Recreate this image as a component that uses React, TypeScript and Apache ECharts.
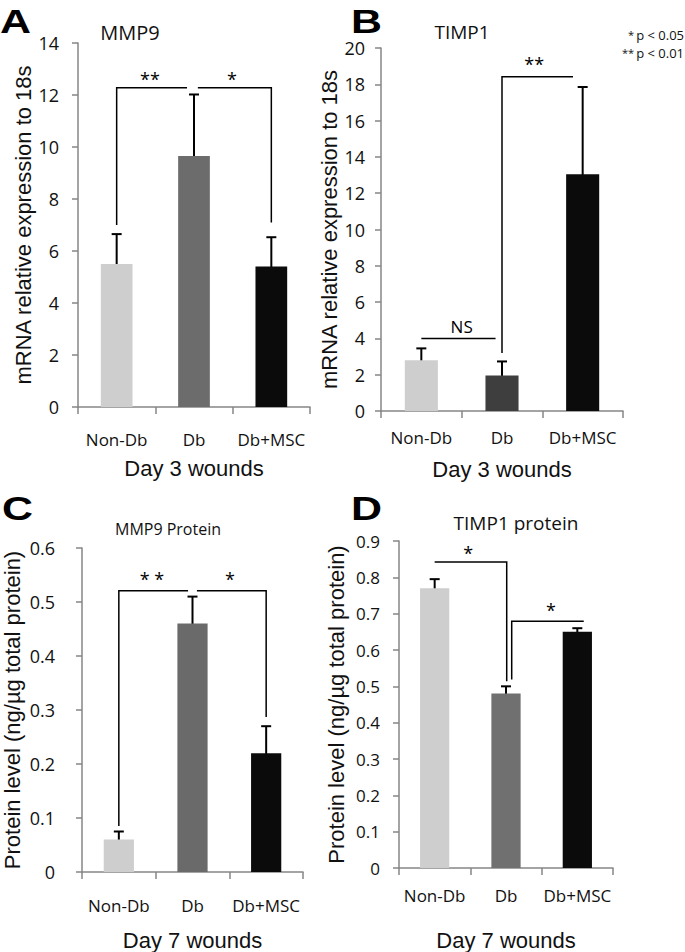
import React, { useEffect, useRef } from "react";
import * as echarts from "echarts";

const categories = ["Non-Db", "Db", "Db+MSC"];

const mmp9Mrna = [5.5, 9.65, 5.4];
const mmp9MrnaErr = [1.15, 2.37, 1.13];
const timp1Mrna = [2.8, 1.95, 13.05];
const timp1MrnaErr = [0.65, 0.78, 4.8];
const mmp9Protein = [0.06, 0.46, 0.22];
const mmp9ProteinErr = [0.015, 0.05, 0.05];
const timp1Protein = [0.77, 0.48, 0.65];
const timp1ProteinErr = [0.025, 0.02, 0.01];

// significance brackets: [category position, value]
const bracketsA = [
  [[0, 7.0], [0, 12.28], [0.91, 12.28]],
  [[1.05, 12.28], [2, 12.28], [2, 7.1]],
];
const bracketsB = [
  [[1, 3.2], [1, 18.42], [1.88, 18.42]],
  [[0, 4.0], [0.92, 4.0]],
];
const bracketsC = [
  [[0, 0.085], [0, 0.521], [0.94, 0.521]],
  [[1.06, 0.521], [2, 0.521], [2, 0.287]],
];
const bracketsD = [
  [[0, 0.842], [1.01, 0.842], [1.01, 0.514]],
  [[1.08, 0.519], [1.08, 0.679], [2.09, 0.679]],
];
// significance marks: [category position, value, text]
const marksA: [number, number, string][] = [[0.43, 12.26, "**"], [1.49, 12.26, "*"]];
const marksB: [number, number, string][] = [[1.4, 18.63, "**"], [0.5, 4.63, "NS"]];
const marksC: [number, number, string][] = [[0.45, 0.526, "* *"], [1.51, 0.526, "*"]];
const marksD: [number, number, string][] = [[0.47, 0.841, "*"], [1.63, 0.686, "*"]];

const AXIS = "#868686";
const LIGHT = "#cecece";
const BLACK = "#0b0b0b";

const grids = [
  { left: 78, top: 43, width: 232, height: 364 },
  { left: 381, top: 48, width: 242, height: 363 },
  { left: 82, top: 548, width: 221, height: 325 },
  { left: 399, top: 541, width: 214, height: 328 },
];

const panels = [
  { values: mmp9Mrna, err: mmp9MrnaErr, db: "#6c6c6c", max: 14, interval: 2, yName: "mRNA relative expression to 18s", xName: "Day 3 wounds", brackets: bracketsA, marks: marksA, labelSize: 18, labelMargin: 19, nameGap: 42, xLabelMargin: 24, xNameGap: 50 },
  { values: timp1Mrna, err: timp1MrnaErr, db: "#3e3e3e", max: 20, interval: 2, yName: "mRNA relative expression to 18s", xName: "Day 3 wounds", brackets: bracketsB, marks: marksB, labelSize: 18, labelMargin: 16, nameGap: 38, xLabelMargin: 18, xNameGap: 47 },
  { values: mmp9Protein, err: mmp9ProteinErr, db: "#6a6a6a", max: 0.6, interval: 0.1, yName: "Protein level (ng/\u00b5g total protein)", xName: "Day 7 wounds", brackets: bracketsC, marks: marksC, labelSize: 18, labelMargin: 27, nameGap: 59, xLabelMargin: 25, xNameGap: 57 },
  { values: timp1Protein, err: timp1ProteinErr, db: "#707070", max: 0.9, interval: 0.1, yName: "Protein level (ng/\u00b5g total protein)", xName: "Day 7 wounds", brackets: bracketsD, marks: marksD, labelSize: 17, labelMargin: 19, nameGap: 52, xLabelMargin: 19, xNameGap: 61 },
];

function buildOption() {
  const xAxis: any[] = [];
  const yAxis: any[] = [];
  const series: any[] = [];
  panels.forEach((p, gi) => {
    xAxis.push({
      gridIndex: gi,
      type: "category",
      data: categories,
      axisLine: { lineStyle: { color: AXIS, width: 1.5 } },
      axisTick: { show: true, length: 7, lineStyle: { color: AXIS, width: 1.5 } },
      axisLabel: { interval: 0, fontSize: 17, color: "#111", fontFamily: "Open Sans", margin: p.xLabelMargin },
      name: p.xName,
      nameLocation: "middle",
      nameGap: p.xNameGap,
      nameTextStyle: { fontSize: 22, color: "#111", fontFamily: "Liberation Sans" },
    });
    yAxis.push({
      gridIndex: gi,
      type: "value",
      min: 0,
      max: p.max,
      interval: p.interval,
      axisLine: { show: true, lineStyle: { color: AXIS, width: 1.5 } },
      axisTick: { show: true, length: 6, lineStyle: { color: AXIS, width: 1.5 } },
      splitLine: { show: false },
      axisLabel: {
        fontSize: p.labelSize,
        color: "#111",
        fontFamily: "Open Sans",
        margin: p.labelMargin,
        formatter: (v: number) => String(Math.round(v * 10) / 10),
      },
      name: p.yName,
      nameLocation: "middle",
      nameGap: p.nameGap,
      nameTextStyle: { fontSize: 22, color: "#111", fontFamily: "Liberation Sans" },
    });
    const colors = [LIGHT, p.db, BLACK];
    series.push({
      type: "bar",
      xAxisIndex: gi,
      yAxisIndex: gi,
      barWidth: "41%",
      data: p.values.map((v, i) => ({ value: v, itemStyle: { color: colors[i] } })),
    });
    series.push({
      type: "custom",
      xAxisIndex: gi,
      yAxisIndex: gi,
      encode: { x: 0, y: 1 },
      data: p.values.map((v, i) => [i, v, p.err[i]]),
      renderItem: (params: any, api: any) => {
        const i = api.value(0);
        const v = api.value(1);
        const e = api.value(2);
        const t = api.coord([i, v + e]);
        const b = api.coord([i, v - e]);
        const c = 5;
        const st = { stroke: "#000", lineWidth: 2 };
        return {
          type: "group",
          children: [
            { type: "line", shape: { x1: t[0], y1: t[1], x2: b[0], y2: b[1] }, style: st },
            { type: "line", shape: { x1: t[0] - c, y1: t[1], x2: t[0] + c, y2: t[1] }, style: st },
            { type: "line", shape: { x1: b[0] - c, y1: b[1], x2: b[0] + c, y2: b[1] }, style: st },
          ],
        };
      },
    });
    series.push({
      type: "custom",
      xAxisIndex: gi,
      yAxisIndex: gi,
      encode: { x: 0, y: 1 },
      data: p.brackets.map((br) => [0, br[0][1]]),
      renderItem: (params: any, api: any) => {
        const br = p.brackets[params.dataIndex];
        const band = api.size([1, 0])[0];
        const pts = br.map(([x, y]) => {
          const c = api.coord([0, y]);
          return [c[0] + x * band, c[1]];
        });
        return { type: "polyline", shape: { points: pts }, style: { stroke: "#000", fill: null, lineWidth: 1.5 } };
      },
    });
    series.push({
      type: "custom",
      xAxisIndex: gi,
      yAxisIndex: gi,
      encode: { x: 0, y: 1 },
      data: p.marks.map((m) => [0, m[1]]),
      renderItem: (params: any, api: any) => {
        const m = p.marks[params.dataIndex];
        const band = api.size([1, 0])[0];
        const c = api.coord([0, m[1]]);
        return {
          type: "text",
          x: c[0] + m[0] * band,
          y: c[1],
          style: {
            text: m[2],
            fontSize: m[2] === "NS" ? 17 : 18,
            fontFamily: "Open Sans",
            fill: "#000",
            align: "center",
            verticalAlign: m[2] === "NS" ? "middle" : "bottom",
          },
        };
      },
    });
  });

  const letter = (text: string, x: number, y: number) => ({
    type: "text",
    x,
    y,
    scaleX: 1.3,
    style: { text, fontSize: 33, fontWeight: "bold", fontFamily: "Liberation Sans", fill: "#000", verticalAlign: "middle" },
  });
  const title = (text: string, x: number, y: number, size: number) => ({
    type: "text",
    x,
    y,
    style: { text, fontSize: size, fontFamily: "Open Sans", fill: "#111", align: "center", verticalAlign: "middle" },
  });
  const legendLine = (text: string, y: number) => ({
    type: "text",
    x: 684,
    y,
    style: {
      text,
      align: "right",
      verticalAlign: "middle",
      fontSize: 13,
      fontFamily: "Open Sans",
      fill: "#111",
      rich: { s: { fontSize: 11, verticalAlign: "top", fontFamily: "Open Sans", fill: "#111", padding: [0, 2, 0, 0] } },
    },
  });

  return {
    animation: false,
    backgroundColor: "#ffffff",
    grid: grids.map((g) => ({ ...g, containLabel: false })),
    xAxis,
    yAxis,
    series,
    graphic: [
      letter("A", 0, 21),
      letter("B", 351, 21),
      letter("C", 2, 508),
      letter("D", 351, 508),
      title("MMP9", 130, 32, 20),
      title("TIMP1", 462, 32, 19),
      title("MMP9 Protein", 168, 529, 16),
      title("TIMP1 protein", 516, 523, 19),
      legendLine("{s|*}p < 0.05", 35),
      legendLine("{s|**}p < 0.01", 53),
    ],
  };
}

export default function App() {
  const ref = useRef<HTMLDivElement>(null);
  useEffect(() => {
    if (!ref.current) return;
    const chart = echarts.init(ref.current, undefined, { renderer: "svg" });
    chart.setOption(buildOption() as any);
    return () => chart.dispose();
  }, []);
  return (
    <div
      ref={ref}
      style={{ position: "absolute", left: 0, top: 0, width: 685, height: 952, background: "#fff" }}
    />
  );
}
